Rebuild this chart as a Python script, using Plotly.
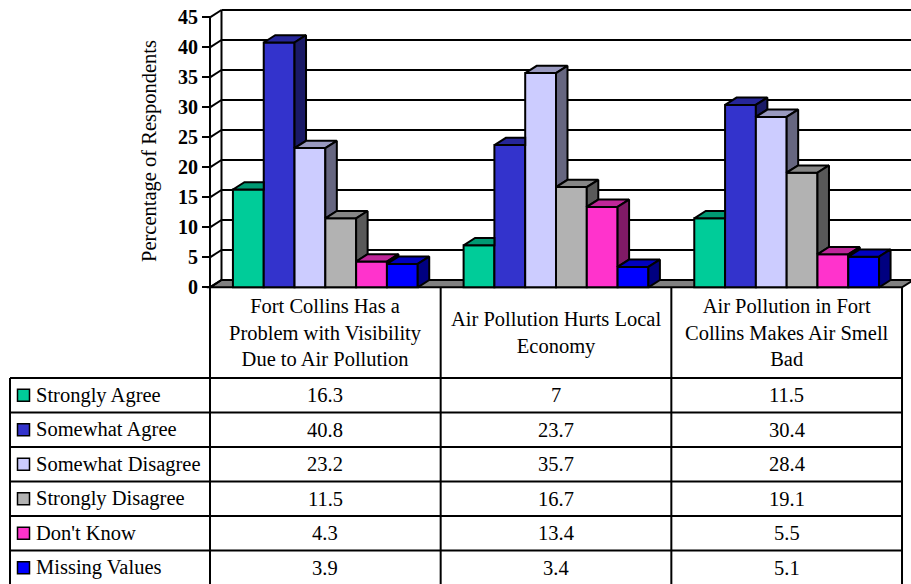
import plotly.graph_objects as go

# ---------------- data ----------------
categories = [
    "Fort Collins Has a<br>Problem with Visibility<br>Due to Air Pollution",
    "Air Pollution Hurts Local<br>Economy",
    "Air Pollution in Fort<br>Collins Makes Air Smell<br>Bad",
]
series_names = ["Strongly Agree", "Somewhat Agree", "Somewhat Disagree",
                "Strongly Disagree", "Don't Know", "Missing Values"]
strongly_agree = [16.3, 7, 11.5]
somewhat_agree = [40.8, 23.7, 30.4]
somewhat_disagree = [23.2, 35.7, 28.4]
strongly_disagree = [11.5, 16.7, 19.1]
dont_know = [4.3, 13.4, 5.5]
missing_values = [3.9, 3.4, 5.1]
y_ticks = [0, 5, 10, 15, 20, 25, 30, 35, 40, 45]
y_title = "Percentage of Respondents"

series_values = [strongly_agree, somewhat_agree, somewhat_disagree,
                 strongly_disagree, dont_know, missing_values]
colors = ["#00CC99", "#3333CC", "#CCCCFF", "#B2B2B2", "#FF33CC", "#0000FF"]

# ---------------- geometry / style ----------------
W, H = 911, 584
CAT_PX = 230.67      # pixel width of one category
X0_PX = 210.0        # pixel x of category edge -0.5 (front y axis)
Y0_PX = 287.3        # pixel y of value 0 (front)
UNIT_PX = 6.0        # pixels per value unit


def X(px):
    return -0.5 + (px - X0_PX) / CAT_PX


def Y(py):
    return (Y0_PX - py) / UNIT_PX


DX = 11.5 / CAT_PX   # depth offset (x)
DY = 7.3 / UNIT_PX   # depth offset (y)
BAR_W = 30.8 / CAT_PX
FONT = "Liberation Serif, Times New Roman, serif"
FS = 20.5
LW = 2


def shade(hexc, f):
    h = hexc.lstrip("#")
    r, g, b = (int(h[i:i + 2], 16) for i in (0, 2, 4))
    return "rgb(%d,%d,%d)" % (round(r * f), round(g * f), round(b * f))


fig = go.Figure()
shapes = []
annotations = []

# floor
xl, xr = -0.5, 2.5
shapes.append(dict(type="path", layer="below",
                   path="M %f,%f L %f,%f L %f,%f L %f,%f Z" % (
                       xl, 0, xr, 0, xr + DX, DY, xl + DX, DY),
                   fillcolor="#808080", line=dict(color="black", width=LW)))
# back wall gridlines and side-wall diagonals
for v in y_ticks:
    if v > 0:
        shapes.append(dict(type="line", layer="below", x0=xl + DX, x1=X(W + 10),
                           y0=v + DY, y1=v + DY, line=dict(color="black", width=LW)))
    shapes.append(dict(type="line", layer="below", x0=xl, x1=xl + DX,
                       y0=v, y1=v + DY, line=dict(color="black", width=LW)))
# back wall left edge
shapes.append(dict(type="line", layer="below", x0=xl + DX, x1=xl + DX,
                   y0=DY, y1=max(y_ticks) + DY, line=dict(color="black", width=LW)))
# front axis line (continues down through table)
shapes.append(dict(type="line", layer="above", x0=xl, x1=xl,
                   y0=max(y_ticks), y1=Y(H + 5), line=dict(color="black", width=LW)))

# ---------------- bars ----------------
nser = len(series_values)
offsets = [(j - (nser - 1) / 2) * BAR_W for j in range(nser)]
for j, (name, vals) in enumerate(zip(series_names, series_values)):
    fig.add_trace(go.Bar(
        x=[i + offsets[j] for i in range(len(vals))], y=vals, width=BAR_W,
        name=name, marker=dict(color=colors[j], line=dict(color="black", width=LW)),
        showlegend=False, hoverinfo="skip"))

# 3-D tops and sides (clipped where the next bar hides them)
for j, vals in enumerate(series_values):
    tx, ty, sx, sy = [], [], [], []
    for i, v in enumerate(vals):
        x0 = i + offsets[j] - BAR_W / 2
        x1 = x0 + BAR_W
        vn = series_values[j + 1][i] if j + 1 < nser else 0.0
        t = (vn - v) / DY
        if t >= 1:
            tx += [x0, x1, x1, x0 + DX, x0, None]
            ty += [v, v, v + DY, v + DY, v, None]
        elif t > 0:
            tx += [x0, x1, x1, x1 + t * DX, x1 + DX, x0 + DX, x0, None]
            ty += [v, v, vn, vn, v + DY, v + DY, v, None]
        else:
            tx += [x0, x1, x1 + DX, x0 + DX, x0, None]
            ty += [v, v, v + DY, v + DY, v, None]
        if vn < v:
            b = max(vn, 0.0)
            sx += [x1, x1, x1 + DX, x1 + DX, x1, None]
            sy += [b, v, v + DY, b + DY, b, None]
    fig.add_trace(go.Scatter(x=tx, y=ty, mode="lines", fill="toself",
                             fillcolor=shade(colors[j], 0.75),
                             line=dict(color="black", width=LW),
                             showlegend=False, hoverinfo="skip"))
    if sx:
        fig.add_trace(go.Scatter(x=sx, y=sy, mode="lines", fill="toself",
                                 fillcolor=shade(colors[j], 0.5),
                                 line=dict(color="black", width=LW),
                                 showlegend=False, hoverinfo="skip"))

# ---------------- data table ----------------
HDR_BOTTOM = 378.0
ROW_H = 34.5
col_edges = [-0.5 + k for k in range(len(categories) + 1)]
table_left = X(10)
row_edges = [HDR_BOTTOM + ROW_H * k for k in range(nser + 1)]
for yb in row_edges:
    shapes.append(dict(type="line", layer="above", x0=table_left, x1=col_edges[-1],
                       y0=Y(yb), y1=Y(yb), line=dict(color="black", width=LW)))
for xe in col_edges[1:]:
    shapes.append(dict(type="line", layer="above", x0=xe, x1=xe,
                       y0=0, y1=Y(H + 5), line=dict(color="black", width=LW)))
shapes.append(dict(type="line", layer="above", x0=table_left, x1=table_left,
                   y0=Y(HDR_BOTTOM), y1=Y(H + 5), line=dict(color="black", width=LW)))

# header texts
for i, c in enumerate(categories):
    annotations.append(dict(x=i, y=Y((Y0_PX + HDR_BOTTOM) / 2), text=c,
                            showarrow=False, xanchor="center", yanchor="middle",
                            font=dict(family=FONT, size=FS, color="black")))
# rows
row_centers = [Y(HDR_BOTTOM + ROW_H * (k + 0.5)) for k in range(nser)]
for k, (name, vals) in enumerate(zip(series_names, series_values)):
    annotations.append(dict(x=X(34), y=row_centers[k], text=name, showarrow=False,
                            xanchor="left", yanchor="middle",
                            font=dict(family=FONT, size=FS, color="black")))
    for i, v in enumerate(vals):
        annotations.append(dict(x=i, y=row_centers[k], text=f"{v:g}", showarrow=False,
                                xanchor="center", yanchor="middle",
                                font=dict(family=FONT, size=FS, color="black")))
# legend keys
fig.add_trace(go.Scatter(x=[X(23.5)] * nser, y=row_centers, mode="markers",
                         marker=dict(symbol="square", size=12, color=colors,
                                     line=dict(color="black", width=1.5)),
                         showlegend=False, hoverinfo="skip", cliponaxis=False))

# axis title
annotations.append(dict(x=X(149), y=Y(151), text=y_title, textangle=-90,
                        showarrow=False, xanchor="center", yanchor="middle",
                        font=dict(family=FONT, size=FS, color="black")))

fig.update_layout(
    width=W, height=H, margin=dict(l=0, r=0, t=0, b=0, pad=0),
    paper_bgcolor="white", plot_bgcolor="white", barmode="overlay",
    showlegend=False, shapes=shapes, annotations=annotations,
    xaxis=dict(range=[X(0), X(W)], visible=False, showgrid=False, zeroline=False,
               domain=[0, 1]),
    yaxis=dict(range=[Y(H), Y(0)], domain=[0, 1], anchor="free", position=X0_PX / W,
               tickmode="array", tickvals=y_ticks, ticktext=[str(t) for t in y_ticks],
               ticks="outside", ticklen=8, tickwidth=2, tickcolor="black",
               showgrid=False, zeroline=False, showline=False,
               tickfont=dict(family=FONT, size=20, color="black", weight="bold")),
)

fig.write_html("out.html")
